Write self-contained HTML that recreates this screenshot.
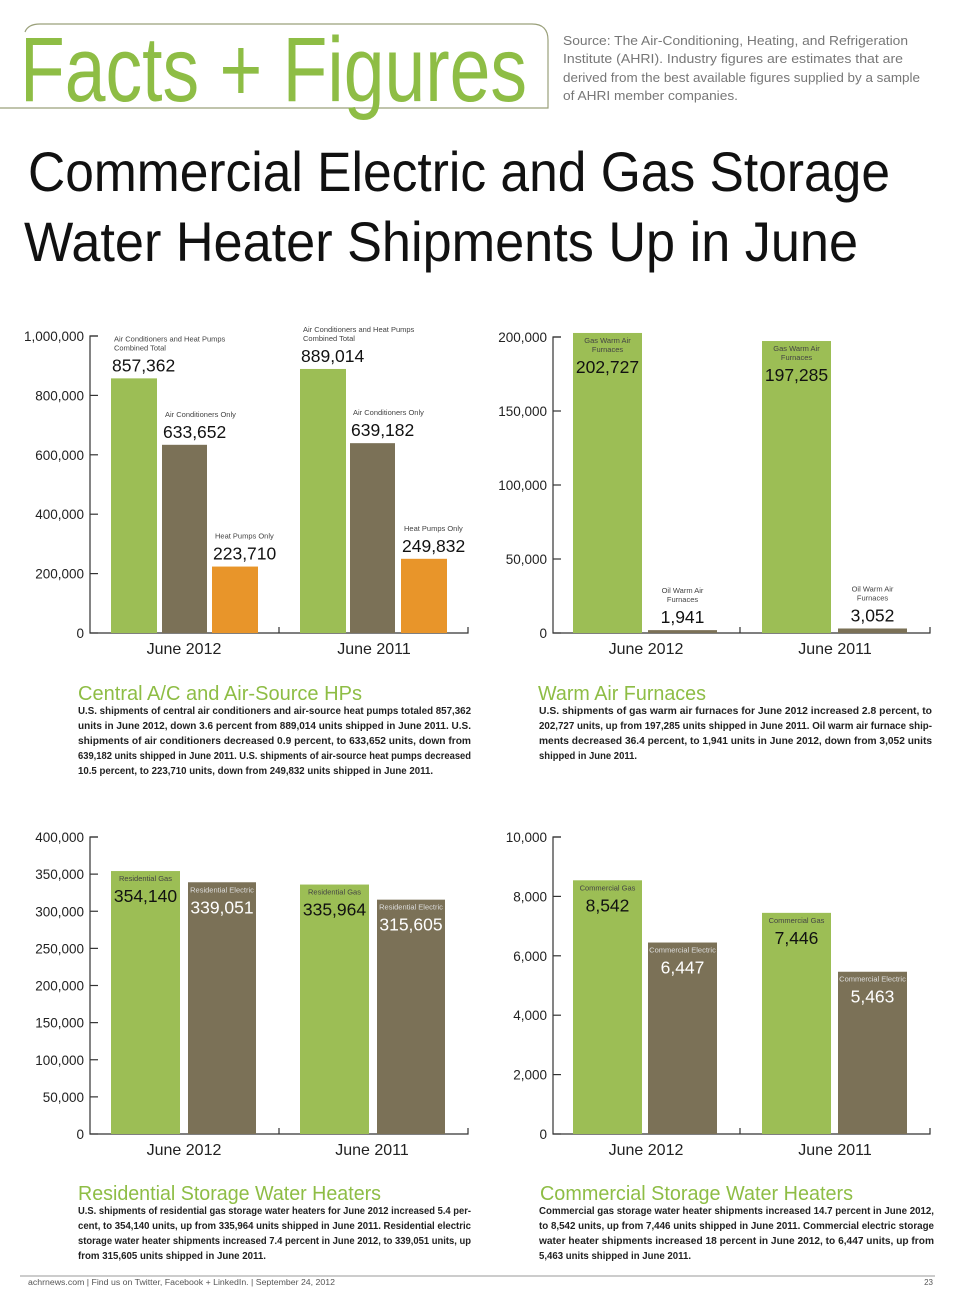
<!DOCTYPE html>
<html><head><meta charset="utf-8"><style>
html,body{margin:0;padding:0;background:#fff;}
svg{display:block;font-family:"Liberation Sans",sans-serif;}
</style></head><body>
<svg id="page" width="960" height="1303" viewBox="0 0 960 1303" xmlns="http://www.w3.org/2000/svg">
<rect width="960" height="1303" fill="#fff"/>
<path d="M0 108 H548 V40 Q548 24 532 24 H40 Q28 24 25 32" fill="none" stroke="#9aa07a" stroke-width="1.2"/>
<text x="20" y="101" font-size="92" fill="#8ebd45" textLength="507" lengthAdjust="spacingAndGlyphs">Facts + Figures</text>
<g font-size="13" fill="#777">
<text x="563" y="45" textLength="345" lengthAdjust="spacingAndGlyphs">Source: The Air-Conditioning, Heating, and Refrigeration</text>
<text x="563" y="63" textLength="340" lengthAdjust="spacingAndGlyphs">Institute (AHRI). Industry figures are estimates that are</text>
<text x="563" y="82" textLength="357" lengthAdjust="spacingAndGlyphs">derived from the best available figures supplied by a sample</text>
<text x="563" y="100" textLength="175" lengthAdjust="spacingAndGlyphs">of AHRI member companies.</text>
</g>
<text x="28" y="191" font-size="56" fill="#111" textLength="862" lengthAdjust="spacingAndGlyphs">Commercial Electric and Gas Storage</text>
<text x="24" y="261" font-size="56" fill="#111" textLength="834" lengthAdjust="spacingAndGlyphs">Water Heater Shipments Up in June</text>

<g id="charts"></g>

<g font-size="20" fill="#8ebd45">
<text x="78" y="700" textLength="284" lengthAdjust="spacingAndGlyphs">Central A/C and Air-Source HPs</text>
<text x="538" y="700" textLength="168" lengthAdjust="spacingAndGlyphs">Warm Air Furnaces</text>
<text x="78" y="1200" textLength="303" lengthAdjust="spacingAndGlyphs">Residential Storage Water Heaters</text>
<text x="540" y="1200" textLength="313" lengthAdjust="spacingAndGlyphs">Commercial Storage Water Heaters</text>
</g>
<g font-size="10.5" fill="#222" font-weight="bold">
<g>
<text x="78" y="714" textLength="393" lengthAdjust="spacingAndGlyphs">U.S. shipments of central air conditioners and air-source heat pumps totaled 857,362</text>
<text x="78" y="729" textLength="393" lengthAdjust="spacingAndGlyphs">units in June 2012, down 3.6 percent from 889,014 units shipped in June 2011. U.S.</text>
<text x="78" y="744" textLength="393" lengthAdjust="spacingAndGlyphs">shipments of air conditioners decreased 0.9 percent, to 633,652 units, down from</text>
<text x="78" y="759" textLength="393" lengthAdjust="spacingAndGlyphs">639,182 units shipped in June 2011. U.S. shipments of air-source heat pumps decreased</text>
<text x="78" y="774" textLength="355" lengthAdjust="spacingAndGlyphs">10.5 percent, to 223,710 units, down from 249,832 units shipped in June 2011.</text>
</g>
<g>
<text x="539" y="714" textLength="393" lengthAdjust="spacingAndGlyphs">U.S. shipments of gas warm air furnaces for June 2012 increased 2.8 percent, to</text>
<text x="539" y="729" textLength="393" lengthAdjust="spacingAndGlyphs">202,727 units, up from 197,285 units shipped in June 2011. Oil warm air furnace ship-</text>
<text x="539" y="744" textLength="393" lengthAdjust="spacingAndGlyphs">ments decreased 36.4 percent, to 1,941 units in June 2012, down from 3,052 units</text>
<text x="539" y="759" textLength="98" lengthAdjust="spacingAndGlyphs">shipped in June 2011.</text>
</g>
<g>
<text x="78" y="1214" textLength="393" lengthAdjust="spacingAndGlyphs">U.S. shipments of residential gas storage water heaters for June 2012 increased 5.4 per-</text>
<text x="78" y="1229" textLength="393" lengthAdjust="spacingAndGlyphs">cent, to 354,140 units, up from 335,964 units shipped in June 2011. Residential electric</text>
<text x="78" y="1244" textLength="393" lengthAdjust="spacingAndGlyphs">storage water heater shipments increased 7.4 percent in June 2012, to 339,051 units, up</text>
<text x="78" y="1259" textLength="188" lengthAdjust="spacingAndGlyphs">from 315,605 units shipped in June 2011.</text>
</g>
<g>
<text x="539" y="1214" textLength="395" lengthAdjust="spacingAndGlyphs">Commercial gas storage water heater shipments increased 14.7 percent in June 2012,</text>
<text x="539" y="1229" textLength="395" lengthAdjust="spacingAndGlyphs">to 8,542 units, up from 7,446 units shipped in June 2011. Commercial electric storage</text>
<text x="539" y="1244" textLength="395" lengthAdjust="spacingAndGlyphs">water heater shipments increased 18 percent in June 2012, to 6,447 units, up from</text>
<text x="539" y="1259" textLength="152" lengthAdjust="spacingAndGlyphs">5,463 units shipped in June 2011.</text>
</g>
</g>
<line x1="20" y1="1276" x2="935" y2="1276" stroke="#999" stroke-width="1"/>
<text x="28" y="1285" font-size="8" fill="#555" textLength="307" lengthAdjust="spacingAndGlyphs">achrnews.com  |  Find us on Twitter, Facebook + LinkedIn.  |  September 24, 2012</text>
<text x="933" y="1285" font-size="8" fill="#555" text-anchor="end">23</text>
</svg>
<script>
// Chart 1: Central A/C and heat pumps
const c1Categories = ["June 2012", "June 2011"];
const c1Combined = [857362, 889014];
const c1AcOnly = [633652, 639182];
const c1HpOnly = [223710, 249832];
const c1Ticks = [0, 200000, 400000, 600000, 800000, 1000000];
// Chart 2: Warm air furnaces
const c2Categories = ["June 2012", "June 2011"];
const c2Gas = [202727, 197285];
const c2Oil = [1941, 3052];
const c2Ticks = [0, 50000, 100000, 150000, 200000];
// Chart 3: Residential storage water heaters
const c3Categories = ["June 2012", "June 2011"];
const c3Gas = [354140, 335964];
const c3Electric = [339051, 315605];
const c3Ticks = [0, 50000, 100000, 150000, 200000, 250000, 300000, 350000, 400000];
// Chart 4: Commercial storage water heaters
const c4Categories = ["June 2012", "June 2011"];
const c4Gas = [8542, 7446];
const c4Electric = [6447, 5463];
const c4Ticks = [0, 2000, 4000, 6000, 8000, 10000];

const NS = "http://www.w3.org/2000/svg";
const root = document.getElementById("charts");
const GREEN = "#9cbe55", BROWN = "#7b7157", ORANGE = "#e8952a";
function mk(tag, attrs, parent) {
  const e = document.createElementNS(NS, tag);
  for (const k in attrs) e.setAttribute(k, attrs[k]);
  parent.appendChild(e);
  return e;
}
function fmt(v) { return v.toLocaleString("en-US"); }

function chart(cfg) {
  const g = mk("g", {}, root);
  
  
  const y = v => cfg.y0 - (v / cfg.max) * (cfg.y0 - cfg.yTop);
  const ax = mk("path", {d: `M${cfg.ax+8} ${y(cfg.max)} H${cfg.ax} V${cfg.y0} H${cfg.xEnd} V${cfg.y0-6} M${cfg.mid} ${cfg.y0} V${cfg.y0-6}`, fill: "none", stroke: "#333", "stroke-width": 1.2}, g);
  
  
  cfg.ticks.forEach(t => {
    const tl = mk("line", {x1: cfg.ax, x2: cfg.ax + 8, y1: y(t), y2: y(t), stroke: "#333", "stroke-width": 1.2}, g);
    
    
    const tx = mk("text", {x: cfg.ax - 6, y: y(t) + 5, "font-size": 13.5, "text-anchor": "end", fill: "#222"}, g);
    
    
    tx.textContent = fmt(t);
  });
  cfg.cats.forEach((c, i) => {
    const tx = mk("text", {x: cfg.catX[i], y: cfg.y0 + 21, "font-size": 16, "text-anchor": "middle", fill: "#222"}, g);
    
    
    tx.textContent = c;
  });
  cfg.series.forEach(s => {
    s.vals.forEach((v, i) => {
      const x = s.x[i], w = s.w, top = y(v);
      const r = mk("rect", {x: x, y: top, width: w, height: cfg.y0 - top, fill: s.color}, g);
      
      
      const inside = s.mode === "inside";
      const anchor = s.align === "left" ? "start" : "middle";
      const lx = s.align === "left" ? x + 1 : x + w / 2;
      const n = s.lines.length;
      s.lines.forEach((ln, k) => {
        const ly = inside ? top + 10 + k * 9 : top - 28 - (n - 1 - k) * 9;
        const t = mk("text", {x: lx + (s.align === "left" ? 2 : 0), y: ly, "font-size": 7.5, "text-anchor": anchor, fill: s.labelColor}, g);
        
        
        t.textContent = ln;
      });
      const vy = inside ? top + 10 + (n - 1) * 9 + 21 : top - 7;
      const vt = mk("text", {x: lx, y: vy, "font-size": 17.5, "text-anchor": anchor, fill: s.valueColor}, g);
      
      
      vt.textContent = fmt(v);
    });
  });
}

chart({name: "chart-central-ac", ax: 90, xEnd: 468, mid: 279, y0: 633, yTop: 336, max: 1000000, ticks: c1Ticks, cats: c1Categories, catX: [184, 374],
  series: [
    {key: "combined", vals: c1Combined, x: [111, 300], w: 46, color: GREEN, mode: "above", align: "left", lines: ["Air Conditioners and Heat Pumps", "Combined Total"], labelColor: "#444", valueColor: "#111"},
    {key: "ac-only", vals: c1AcOnly, x: [162, 350], w: 45, color: BROWN, mode: "above", align: "left", lines: ["Air Conditioners Only"], labelColor: "#444", valueColor: "#111"},
    {key: "hp-only", vals: c1HpOnly, x: [212, 401], w: 46, color: ORANGE, mode: "above", align: "left", lines: ["Heat Pumps Only"], labelColor: "#444", valueColor: "#111"}
  ]});
chart({name: "chart-warm-air-furnaces", ax: 553, xEnd: 930, mid: 740, y0: 633, yTop: 337, max: 200000, ticks: c2Ticks, cats: c2Categories, catX: [646, 835],
  series: [
    {key: "gas", vals: c2Gas, x: [573, 762], w: 69, color: GREEN, mode: "inside", align: "center", lines: ["Gas Warm Air", "Furnaces"], labelColor: "#444", valueColor: "#111"},
    {key: "oil", vals: c2Oil, x: [648, 838], w: 69, color: BROWN, mode: "above", align: "center", lines: ["Oil Warm Air", "Furnaces"], labelColor: "#444", valueColor: "#111"}
  ]});
chart({name: "chart-residential-storage", ax: 90, xEnd: 468, mid: 279, y0: 1134, yTop: 837, max: 400000, ticks: c3Ticks, cats: c3Categories, catX: [184, 372],
  series: [
    {key: "res-gas", vals: c3Gas, x: [111, 300], w: 69, color: GREEN, mode: "inside", align: "center", lines: ["Residential Gas"], labelColor: "#444", valueColor: "#111"},
    {key: "res-electric", vals: c3Electric, x: [188, 377], w: 68, color: BROWN, mode: "inside", align: "center", lines: ["Residential Electric"], labelColor: "#ddd", valueColor: "#fff"}
  ]});
chart({name: "chart-commercial-storage", ax: 553, xEnd: 930, mid: 740, y0: 1134, yTop: 837, max: 10000, ticks: c4Ticks, cats: c4Categories, catX: [646, 835],
  series: [
    {key: "com-gas", vals: c4Gas, x: [573, 762], w: 69, color: GREEN, mode: "inside", align: "center", lines: ["Commercial Gas"], labelColor: "#444", valueColor: "#111"},
    {key: "com-electric", vals: c4Electric, x: [648, 838], w: 69, color: BROWN, mode: "inside", align: "center", lines: ["Commercial Electric"], labelColor: "#ddd", valueColor: "#fff"}
  ]});
</script>
</body></html>
